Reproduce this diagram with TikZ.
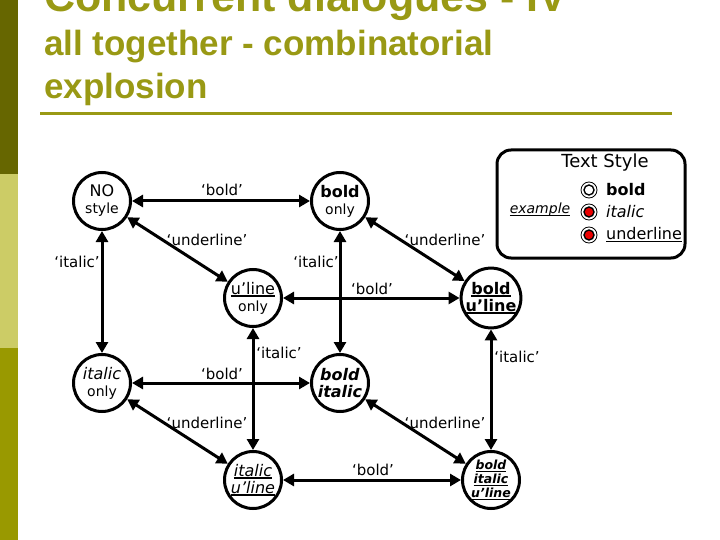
\documentclass[tikz,border=0pt]{standalone}
\usepackage{fontspec}
\setmainfont{DejaVu Sans}
\newfontfamily\titlefont{Liberation Sans}
\usetikzlibrary{arrows.meta}
\definecolor{oliveA}{RGB}{102,102,0}
\definecolor{oliveB}{RGB}{204,204,102}
\definecolor{oliveC}{RGB}{153,153,0}
\definecolor{titlecol}{RGB}{153,153,20}
\definecolor{legred}{RGB}{235,0,0}
\newcommand\myul[1]{\setbox0\hbox{#1}\rlap{\rule[-2.6pt]{\wd0}{1.4pt}}\box0}
\newcommand\smalltxt{\fontsize{14}{16}\selectfont}
\begin{document}
\begin{tikzpicture}[x=1pt,y=-1pt,
  state/.style={circle,draw,line width=3pt,minimum size=57pt,inner sep=0pt,align=center,font=\fontsize{16}{19}\selectfont},
  trans/.style={{Triangle[length=11pt,width=12pt]}-{Triangle[length=11pt,width=12pt]},line width=3pt},
  lab/.style={font=\fontsize{15}{18}\selectfont,inner sep=0pt},
  ttl/.style={anchor=base west,inner sep=0pt,text=titlecol}
]
\useasboundingbox (0,0) rectangle (720,540);
% left bar
\fill[oliveA] (0,0) rectangle (18,174);
\fill[oliveB] (0,174) rectangle (18,348);
\fill[oliveC] (0,348) rectangle (18,540);
% title
\node[ttl,font=\titlefont\bfseries\fontsize{43}{43}\selectfont] (t1) at (44,12) {Concurrent dialogues - IV};
\node[ttl,font=\titlefont\bfseries\fontsize{35}{35}\selectfont] (t2) at (44,56) {all together - combinatorial};
\node[ttl,font=\titlefont\bfseries\fontsize{35}{35}\selectfont] (t3) at (44,99) {explosion};
\coordinate (r1) at (40,114);
\coordinate (r2) at (672,114);
\draw[titlecol,line width=3pt] (r1) -- (r2);

% states
\node[state] (no) at (102,201) {NO\\[-2pt]{\smalltxt style}};
\node[state] (b) at (340,201) {\textbf{bold}\\[-2pt]{\smalltxt only}};
\node[state] (u) at (253,298) {\myul{u’line}\\[-2pt]{\smalltxt only}};
\node[state] (bu) at (491,298) {\myul{\textbf{bold}}\\[-2pt]\myul{\textbf{u’line}}};
\node[state] (i) at (102,383) {\textit{italic}\\[-2pt]{\smalltxt only}};
\node[state] (bi) at (340,383) {\textbf{\textit{bold}}\\[-2pt]\textbf{\textit{italic}}};
\node[state] (iu) at (253,480) {\myul{\textit{italic}}\\[-2pt]\myul{\textit{u’line}}};
\node[state,font=\fontsize{12.5}{14}\selectfont] (biu) at (491,480) {\myul{\textbf{\textit{bold}}}\\\myul{\textbf{\textit{italic}}}\\\myul{\textbf{\textit{u’line}}}};

% transitions
\draw[trans] (no) -- (b);
\draw[trans] (no) -- (u);
\draw[trans] (no) -- (i);
\draw[trans] (b) -- (bu);
\draw[trans] (b) -- (bi);
\draw[trans] (u) -- (bu);
\draw[trans] (u) -- (iu);
\draw[trans] (bu) -- (biu);
\draw[trans] (i) -- (bi);
\draw[trans] (i) -- (iu);
\draw[trans] (bi) -- (biu);
\draw[trans] (iu) -- (biu);

% labels
\node[lab] (l1) at (222,190) {‘bold’};
\node[lab] (l2) at (207,240) {‘underline’};
\node[lab] (l3) at (77,262) {‘italic’};
\node[lab] (l4) at (316,262) {‘italic’};
\node[lab] (l5) at (445,240) {‘underline’};
\node[lab] (l6) at (372,289) {‘bold’};
\node[lab] (l7) at (279,353) {‘italic’};
\node[lab] (l8) at (222,374) {‘bold’};
\node[lab] (l9) at (517,357) {‘italic’};
\node[lab] (l10) at (207,423) {‘underline’};
\node[lab] (l11) at (445,423) {‘underline’};
\node[lab] (l12) at (373,470) {‘bold’};

% legend
\node[draw,line width=3pt,rounded corners=14pt,minimum width=188pt,minimum height=108pt] (leg) at (591,204) {};
\node[font=\fontsize{18}{20}\selectfont,inner sep=0pt] (legt) at (605,163) {Text Style};
\node[font=\fontsize{14}{16}\selectfont,inner sep=0pt] (ex) at (540,210) {\myul{\textit{example}}};
\foreach \yy/\nm/\col in {190/ca/white,212/cb/legred,235/cc/legred}{
  \node[circle,draw,line width=0.8pt,minimum size=16pt,inner sep=0pt] (\nm o) at (589,\yy) {};
  \node[circle,draw,line width=1.4pt,fill=\col,minimum size=10pt,inner sep=0pt] (\nm i) at (589,\yy) {};
}
\node[anchor=west,inner sep=0pt,font=\fontsize{16}{18}\selectfont] (lb) at (606,190) {\textbf{bold}};
\node[anchor=west,inner sep=0pt,font=\fontsize{16}{18}\selectfont] (li) at (606,212) {\textit{italic}};
\node[anchor=west,inner sep=0pt,font=\fontsize{16}{18}\selectfont] (lu) at (606,235) {\myul{underline}};
\end{tikzpicture}
\end{document}
